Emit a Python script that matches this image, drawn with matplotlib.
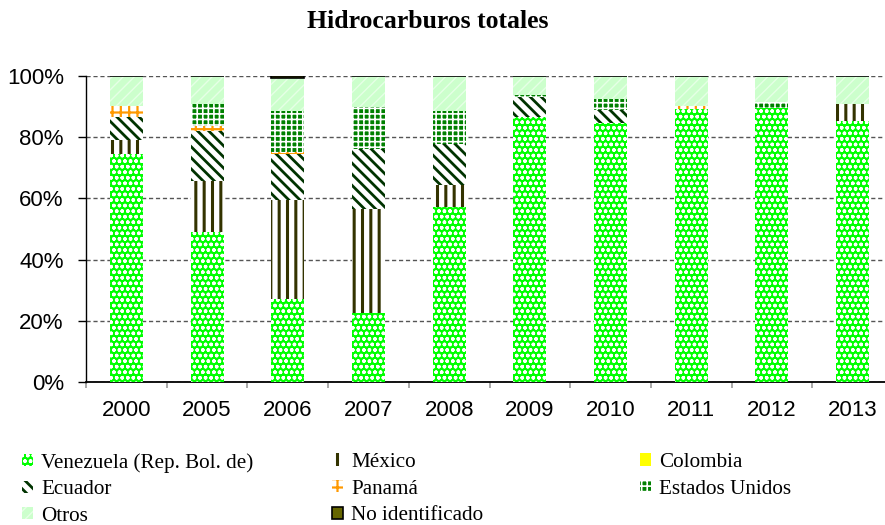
import matplotlib
matplotlib.use("Agg")
import matplotlib.pyplot as plt
from matplotlib.patches import Patch
from matplotlib.ticker import FuncFormatter, FixedLocator
import numpy as np

years = ["2000", "2005", "2006", "2007", "2008", "2009", "2010", "2011", "2012", "2013"]
venezuela = [74.5, 49.0, 27.0, 22.6, 57.3, 86.7, 84.8, 89.1, 89.4, 85.3]
mexico = [4.6, 16.8, 32.5, 33.8, 7.1, 0.0, 0.0, 0.0, 0.0, 5.7]
colombia = [0.0, 0.0, 0.0, 0.0, 0.0, 0.0, 0.0, 0.0, 0.0, 0.0]
ecuador = [7.4, 16.2, 15.0, 19.6, 13.3, 6.3, 4.1, 0.0, 0.0, 0.0]
panama = [3.8, 1.8, 0.8, 0.0, 0.0, 0.0, 0.0, 1.0, 0.0, 0.0]
estados_unidos = [0.0, 7.2, 13.4, 14.0, 10.9, 0.9, 3.6, 0.0, 2.1, 0.0]
otros = [9.7, 9.0, 10.5, 10.0, 11.4, 6.1, 7.5, 9.9, 8.5, 9.0]
no_identificado = [0.0, 0.0, 0.8, 0.0, 0.0, 0.0, 0.0, 0.0, 0.0, 0.0]

series = [
    ("Venezuela (Rep. Bol. de)", venezuela),
    ("México", mexico),
    ("Colombia", colombia),
    ("Ecuador", ecuador),
    ("Panamá", panama),
    ("Estados Unidos", estados_unidos),
    ("Otros", otros),
    ("No identificado", no_identificado),
]

# style: facecolor, hatchcolor, hatch, hatch linewidth(pt), edge lw
styles = {
    "Venezuela (Rep. Bol. de)": ("#00FF00", "white", "ooo", 1.0, 0),
    "México": ("white", "#333300", "||", 2.2, 0),
    "Colombia": ("#FFFF00", "#FFFF00", None, 1.0, 0),
    "Ecuador": ("white", "#003300", "\\\\\\", 2.0, 0),
    "Panamá": ("white", "#FF9900", "++", 1.6, 0),
    "Estados Unidos": ("#008000", "white", "+++", 1.2, 0),
    "Otros": ("#CCFFCC", "#E6FFE6", "///", 1.0, 0),
    "No identificado": ("#666600", "black", None, 1.0, 1.2),
}


def set_hlw(artist, lw):
    try:
        artist.set_hatch_linewidth(lw)
    except AttributeError:
        pass


W, H = 885, 525
fig = plt.figure(figsize=(W / 100, H / 100), dpi=100)
ax = fig.add_axes([86 / W, (H - 382) / H, (893 - 86) / W, (382 - 76) / H])

x = np.arange(len(years))
bottom = np.zeros(len(years))
handles = {}
for name, vals in series:
    fc, hc, hatch, hlw, elw = styles[name]
    vals = np.array(vals, dtype=float)
    with plt.rc_context({"hatch.linewidth": hlw}):
        bars = ax.bar(x, vals, 0.41, bottom=bottom, color=fc, edgecolor=hc,
                      hatch=hatch, linewidth=elw, zorder=3)
        h = Patch(facecolor=fc, edgecolor=hc, hatch=hatch, linewidth=elw)
    for p in bars:
        set_hlw(p, hlw)
    set_hlw(h, hlw)
    handles[name] = (h, hlw)
    bottom += vals

ax.set_xlim(-0.5, len(years) - 0.5)
ax.set_ylim(0, 100)
ax.set_yticks([0, 20, 40, 60, 80, 100])
ax.yaxis.set_major_formatter(FuncFormatter(lambda v, p: f"{int(v)}%"))
ax.set_xticks(x)
ax.set_xticklabels(years)
ax.xaxis.set_minor_locator(FixedLocator(np.arange(-0.5, len(years), 1.0)))
ax.tick_params(axis="x", which="major", length=0, pad=13, labelsize=16)
ax.tick_params(axis="x", which="minor", length=4.5, color="#999999", width=1.2)
ax.tick_params(axis="y", which="major", length=6, color="black", width=1, pad=10, labelsize=16)
for lab in ax.get_xticklabels() + ax.get_yticklabels():
    lab.set_fontfamily("Liberation Sans")
ax.grid(axis="y", linestyle=(0, (3, 2)), color="#555555", linewidth=1, zorder=0)
ax.set_axisbelow(True)
for s in ["top", "right"]:
    ax.spines[s].set_visible(False)
ax.spines["left"].set_color("black")
ax.spines["bottom"].set_color("black")
ax.spines["left"].set_linewidth(1)
ax.spines["bottom"].set_linewidth(1.3)

fig.text(428 / W, 1 - 22 / H, "Hidrocarburos totales", ha="center", va="center",
         fontsize=18.5, fontweight="bold", fontfamily="Liberation Serif")

cols = [
    ["Venezuela (Rep. Bol. de)", "Ecuador", "Otros"],
    ["México", "Panamá", "No identificado"],
    ["Colombia", "Estados Unidos"],
]
col_x = [22, 332, 640]
for cx, names in zip(col_x, cols):
    leg = fig.legend([handles[n][0] for n in names], names, loc="upper left",
                     bbox_to_anchor=(cx / W, 1 - 453 / H),
                     frameon=False, prop={"family": "Liberation Serif", "size": 15.2},
                     handlelength=0.5, handleheight=0.5, handletextpad=0.4,
                     labelspacing=0.36, borderpad=0, borderaxespad=0)
    for lp, n in zip(leg.get_patches(), names):
        set_hlw(lp, handles[n][1])

fig.savefig("out.png", dpi=100)
